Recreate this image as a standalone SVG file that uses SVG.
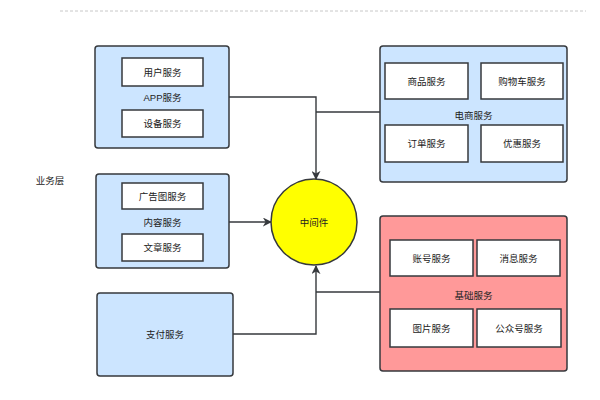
<svg xmlns="http://www.w3.org/2000/svg" width="600" height="400" viewBox="0 0 600 400">
<defs>
<marker id="arr" viewBox="0 0 10 10" refX="9" refY="5" markerWidth="9" markerHeight="9" markerUnits="userSpaceOnUse" orient="auto">
<path d="M0,0 L10,5 L0,10 L3,5 Z" fill="#36393d"/>
</marker>
</defs>
<style>
text{font-family:"Liberation Sans","Noto Sans CJK SC",sans-serif;font-size:9.5px;fill:#222;text-anchor:middle;dominant-baseline:central}
.blue{fill:#cce5ff;stroke:#36393d;stroke-width:1.5}
.red{fill:#ff9999;stroke:#36393d;stroke-width:1.5}
.inner{fill:#fff;stroke:#36393d;stroke-width:1.5}
.conn{fill:none;stroke:#36393d;stroke-width:1.4}
</style>
<rect width="600" height="400" fill="#fff"/>
<line x1="60" y1="11" x2="586" y2="11" stroke="#c8c8c8" stroke-width="1" stroke-dasharray="3,2"/>
<text x="50" y="180">业务层</text>
<g id="conns">
<path class="conn" d="M229,97 H316 V179" marker-end="url(#arr)"/>
<path class="conn" d="M380,112 H316"/>
<path class="conn" d="M229,222 H271" marker-end="url(#arr)"/>
<path class="conn" d="M233,334 H316 V266" marker-end="url(#arr)"/>
<path class="conn" d="M380,292 H316"/>
</g>
<g id="app">
<rect class="blue" x="95" y="46" width="134" height="102" rx="3"/>
<rect class="inner" x="122" y="58" width="81" height="28"/>
<text x="162.5" y="72">用户服务</text>
<text x="162.5" y="97">APP服务</text>
<rect class="inner" x="122" y="110" width="81" height="27"/>
<text x="162.5" y="123.5">设备服务</text>
</g>
<g id="content">
<rect class="blue" x="96" y="174" width="133" height="94" rx="3"/>
<rect class="inner" x="122" y="183" width="81" height="26"/>
<text x="162.5" y="196">广告图服务</text>
<text x="162.5" y="222">内容服务</text>
<rect class="inner" x="122" y="234" width="81" height="27"/>
<text x="162.5" y="247.5">文章服务</text>
</g>
<g id="pay">
<rect class="blue" x="97" y="293" width="136" height="83" rx="3"/>
<text x="165" y="334">支付服务</text>
</g>
<g id="middleware">
<circle cx="314" cy="222" r="43" fill="#ffff00" stroke="#36393d" stroke-width="1.5"/>
<text x="314" y="222">中间件</text>
</g>
<g id="ecommerce">
<rect class="blue" x="380" y="46" width="187" height="136" rx="3"/>
<rect class="inner" x="385" y="63" width="83" height="36"/>
<text x="426.5" y="81">商品服务</text>
<rect class="inner" x="481" y="63" width="82" height="36"/>
<text x="522" y="81">购物车服务</text>
<text x="473.5" y="115">电商服务</text>
<rect class="inner" x="385" y="125" width="83" height="37"/>
<text x="426.5" y="143.5">订单服务</text>
<rect class="inner" x="481" y="125" width="82" height="37"/>
<text x="522" y="143.5">优惠服务</text>
</g>
<g id="basic">
<rect class="red" x="380" y="216" width="187" height="155" rx="3"/>
<rect class="inner" x="390" y="240" width="83" height="36"/>
<text x="431.5" y="258">账号服务</text>
<rect class="inner" x="477" y="240" width="83" height="36"/>
<text x="518.5" y="258">消息服务</text>
<text x="473.5" y="295">基础服务</text>
<rect class="inner" x="390" y="309" width="83" height="38"/>
<text x="431.5" y="328">图片服务</text>
<rect class="inner" x="477" y="309" width="84" height="38"/>
<text x="519" y="328">公众号服务</text>
</g>
</svg>
